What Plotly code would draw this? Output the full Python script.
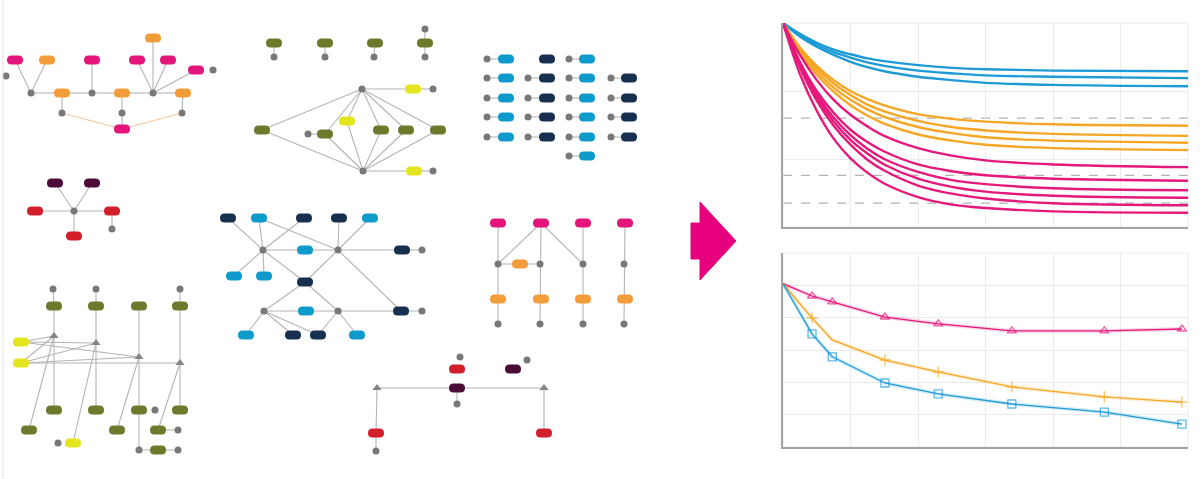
import plotly.graph_objects as go

# ---------------- data ----------------
# node-link sketches on the left (pixel coordinates of the canvas)
PILLS = [
    # top-left tree
    (15, 60, "pink"), (47, 60, "orange"), (92, 60, "pink"), (153, 38, "orange"),
    (137, 60, "pink"), (168, 60, "pink"), (196, 70, "pink"), (62, 93, "orange"),
    (122, 93, "orange"), (183, 93, "orange"), (122, 129, "pink"),
    # top-middle hubs
    (274, 43, "olive"), (325, 43, "olive"), (375, 43, "olive"), (425, 43, "olive"),
    (262, 130, "olive"), (325, 134, "olive"), (381, 130, "olive"), (406, 130, "olive"),
    (438, 130, "olive"), (413, 89, "yellow"), (347, 121, "yellow"), (414, 171, "yellow"),
    # grid
    (506, 59, "cyan"), (506, 78, "cyan"), (506, 98, "cyan"), (506, 117, "cyan"), (506, 137, "cyan"),
    (547, 59, "navy"), (547, 78, "navy"), (547, 98, "navy"), (547, 117, "navy"), (547, 137, "navy"),
    (587, 59, "cyan"), (587, 78, "cyan"), (587, 98, "cyan"), (587, 117, "cyan"), (587, 137, "cyan"),
    (587, 156, "cyan"),
    (629, 78, "navy"), (629, 98, "navy"), (629, 117, "navy"), (629, 137, "navy"),
    # star
    (55, 183, "purple"), (92, 183, "purple"), (35, 211, "red"), (112, 211, "red"), (74, 236, "red"),
    # bottom-left
    (54, 306, "olive"), (96, 306, "olive"), (139, 306, "olive"), (180, 306, "olive"),
    (54, 410, "olive"), (96, 410, "olive"), (139, 410, "olive"), (180, 410, "olive"),
    (29, 430, "olive"), (117, 430, "olive"), (158, 430, "olive"), (158, 450, "olive"),
    (21, 342, "yellow"), (21, 363, "yellow"), (73, 443, "yellow"),
    # middle network
    (228, 218, "navy"), (304, 218, "navy"), (339, 218, "navy"), (402, 250, "navy"),
    (305, 282, "navy"), (401, 311, "navy"), (293, 335, "navy"), (318, 335, "navy"),
    (259, 218, "cyan"), (370, 218, "cyan"), (305, 250, "cyan"), (234, 276, "cyan"),
    (264, 276, "cyan"), (306, 311, "cyan"), (246, 335, "cyan"), (357, 335, "cyan"),
    # right-middle ladder
    (498, 223, "pink"), (541, 223, "pink"), (583, 223, "pink"), (625, 223, "pink"),
    (520, 264, "orange"), (498, 299, "orange"), (541, 299, "orange"), (583, 299, "orange"),
    (625, 299, "orange"),
    # bottom-middle
    (457, 369, "red"), (376, 433, "red"), (544, 433, "red"), (513, 369, "purple"), (457, 388, "purple"),
]

DOTS = [
    (213, 70), (6, 76), (31, 93), (92, 93), (153, 93), (62, 113), (122, 113), (182, 113),
    (274, 57), (325, 57), (374, 57), (425, 57), (425, 29), (362, 89), (433, 89), (308, 134),
    (363, 171), (433, 171),
    (487, 59), (487, 78), (487, 98), (487, 117), (487, 137),
    (528, 78), (528, 98), (528, 117), (528, 137),
    (569, 59), (569, 78), (569, 98), (569, 117), (569, 137), (569, 156),
    (611, 78), (611, 98), (611, 117), (611, 137),
    (74, 211), (112, 229),
    (53, 289), (96, 289), (180, 289), (155, 410), (178, 430), (58, 443), (139, 450), (178, 450),
    (263, 250), (338, 250), (264, 311), (338, 311), (422, 250), (422, 311),
    (498, 264), (540, 264), (583, 264), (624, 264), (498, 324), (540, 324), (583, 324), (624, 324),
    (460, 357), (527, 360), (457, 404), (376, 451),
]

TRIANGLES = [(54, 336), (96, 343), (139, 357), (180, 363), (377, 388), (544, 388)]

EDGES = [
    ((15, 60), (31, 93)), ((47, 60), (31, 93)), ((31, 93), (62, 93)), ((62, 93), (92, 93)),
    ((92, 60), (92, 93)), ((92, 93), (122, 93)), ((122, 93), (153, 93)), ((153, 93), (153, 38)),
    ((153, 93), (137, 60)), ((153, 93), (168, 60)), ((153, 93), (196, 70)), ((153, 93), (183, 93)),
    ((62, 93), (62, 113)), ((122, 93), (122, 113)), ((183, 93), (182, 113)), ((122, 113), (122, 129)),
    ((274, 43), (274, 57)), ((325, 43), (325, 57)), ((375, 43), (374, 57)), ((425, 29), (425, 57)),
    ((362, 89), (413, 89)), ((362, 89), (262, 130)), ((362, 89), (325, 134)), ((362, 89), (347, 121)),
    ((362, 89), (381, 130)), ((362, 89), (406, 130)), ((362, 89), (438, 130)),
    ((363, 171), (414, 171)), ((363, 171), (262, 130)), ((363, 171), (325, 134)), ((363, 171), (347, 121)),
    ((363, 171), (381, 130)), ((363, 171), (406, 130)), ((363, 171), (438, 130)),
    ((413, 89), (433, 89)), ((414, 171), (433, 171)), ((308, 134), (325, 134)),
    ((487, 59), (506, 59)), ((487, 78), (506, 78)), ((487, 98), (506, 98)), ((487, 117), (506, 117)),
    ((487, 137), (506, 137)), ((528, 78), (547, 78)), ((528, 98), (547, 98)), ((528, 117), (547, 117)),
    ((528, 137), (547, 137)), ((569, 59), (587, 59)), ((569, 78), (587, 78)), ((569, 98), (587, 98)),
    ((569, 117), (587, 117)), ((569, 137), (587, 137)), ((569, 156), (587, 156)),
    ((611, 78), (629, 78)), ((611, 98), (629, 98)), ((611, 117), (629, 117)), ((611, 137), (629, 137)),
    ((55, 183), (74, 211)), ((92, 183), (74, 211)), ((35, 211), (74, 211)), ((74, 211), (112, 211)),
    ((74, 211), (74, 236)), ((112, 211), (112, 229)),
    ((53, 289), (54, 306)), ((96, 289), (96, 306)), ((180, 289), (180, 306)),
    ((54, 306), (54, 410)), ((96, 306), (96, 410)), ((139, 306), (139, 450)), ((180, 306), (180, 410)),
    ((21, 342), (54, 336)), ((21, 342), (96, 343)), ((21, 342), (139, 357)),
    ((21, 363), (54, 336)), ((21, 363), (96, 343)), ((21, 363), (139, 357)), ((21, 363), (180, 363)),
    ((29, 430), (54, 336)), ((73, 443), (96, 343)), ((117, 430), (139, 357)), ((158, 430), (180, 363)),
    ((158, 430), (178, 430)), ((139, 450), (178, 450)),
    ((228, 218), (263, 250)), ((259, 218), (263, 250)), ((304, 218), (263, 250)), ((259, 218), (338, 250)),
    ((339, 218), (338, 250)), ((370, 218), (338, 250)), ((263, 250), (338, 250)), ((338, 250), (422, 250)),
    ((263, 250), (234, 276)), ((263, 250), (264, 276)), ((263, 250), (305, 282)), ((338, 250), (305, 282)),
    ((338, 250), (401, 311)), ((305, 282), (264, 311)), ((305, 282), (338, 311)), ((264, 311), (422, 311)),
    ((264, 311), (246, 335)), ((264, 311), (293, 335)), ((264, 311), (318, 335)),
    ((338, 311), (318, 335)), ((338, 311), (357, 335)),
    ((498, 223), (498, 324)), ((541, 223), (540, 324)), ((583, 223), (583, 324)), ((625, 223), (624, 324)),
    ((541, 223), (498, 264)), ((541, 223), (583, 264)), ((498, 264), (540, 264)),
    ((377, 388), (544, 388)), ((377, 390), (376, 433)), ((544, 390), (544, 433)),
    ((457, 388), (457, 404)), ((376, 433), (376, 451)),
]
EDGES_TINTED = [((62, 113), (122, 129)), ((182, 113), (122, 129))]

ARROW_X = [700, 736, 700, 700, 691, 691, 700, 700]
ARROW_Y = [202, 241, 280, 259, 259, 223, 223, 202]

# top-right chart: decaying curves
CURVE_X = [0, 0.25, 0.5, 0.75, 1, 1.25, 1.5, 2, 2.5, 3, 4, 6]
BLUE_CURVES = [
    [3.0, 2.84, 2.71, 2.61, 2.54, 2.48, 2.44, 2.38, 2.34, 2.32, 2.30, 2.29],
    [3.0, 2.82, 2.68, 2.57, 2.49, 2.42, 2.37, 2.30, 2.26, 2.23, 2.21, 2.19],
    [3.0, 2.80, 2.65, 2.53, 2.43, 2.35, 2.29, 2.21, 2.16, 2.12, 2.09, 2.07],
]
ORANGE_CURVES = [
    [3.0, 2.64, 2.37, 2.16, 2.00, 1.88, 1.79, 1.66, 1.59, 1.55, 1.51, 1.49],
    [3.0, 2.63, 2.34, 2.11, 1.94, 1.80, 1.70, 1.56, 1.47, 1.42, 1.37, 1.34],
    [3.0, 2.60, 2.29, 2.05, 1.87, 1.73, 1.62, 1.47, 1.38, 1.32, 1.27, 1.24],
    [3.0, 2.57, 2.24, 1.99, 1.79, 1.64, 1.52, 1.36, 1.27, 1.21, 1.16, 1.13],
]
PINK_CURVES = [
    [3.0, 2.53, 2.16, 1.87, 1.65, 1.48, 1.34, 1.16, 1.05, 0.98, 0.92, 0.88],
    [3.0, 2.43, 2.00, 1.68, 1.43, 1.25, 1.11, 0.92, 0.82, 0.76, 0.71, 0.68],
    [3.0, 2.40, 1.95, 1.61, 1.35, 1.15, 1.00, 0.81, 0.69, 0.63, 0.57, 0.54],
    [3.0, 2.38, 1.91, 1.55, 1.28, 1.08, 0.92, 0.71, 0.59, 0.52, 0.46, 0.43],
    [3.0, 2.35, 1.86, 1.49, 1.21, 0.99, 0.83, 0.61, 0.49, 0.42, 0.35, 0.32],
    [3.0, 2.25, 1.71, 1.30, 1.01, 0.80, 0.64, 0.44, 0.33, 0.28, 0.23, 0.21],
]
DASH_LEVELS = [1.60, 0.76, 0.35]

# bottom-right chart: measured series
SERIES_X = [0, 0.43, 0.73, 1.51, 2.30, 3.39, 4.76, 5.91]
PINK_SERIES = [5.05, 4.67, 4.49, 4.02, 3.81, 3.59, 3.59, 3.65]
ORANGE_SERIES = [5.05, 3.99, 3.31, 2.69, 2.32, 1.86, 1.55, 1.39]
BLUE_SERIES = [5.05, 3.50, 2.79, 1.98, 1.64, 1.33, 1.08, 0.71]

# ---------------- styling ----------------
COLORS = {
    "pink": "#e3147a", "orange": "#f39c3a", "olive": "#6b7a2b", "yellow": "#e3e51e",
    "cyan": "#0e9bcb", "navy": "#18304f", "red": "#d21f2b", "purple": "#4b0c36",
}
LINE_BLUE = "#1e9ad6"
LINE_ORANGE = "#f6a623"
LINE_PINK = "#e5197b"


def pill_path(x, y, w=16, h=9):
    r = h / 2
    a, b = x - w / 2 + r, x + w / 2 - r
    return (f"M {a},{y - r} L {b},{y - r} Q {x + w / 2},{y - r} {x + w / 2},{y} "
            f"Q {x + w / 2},{y + r} {b},{y + r} L {a},{y + r} "
            f"Q {x - w / 2},{y + r} {x - w / 2},{y} Q {x - w / 2},{y - r} {a},{y - r} Z")


def seg_xy(edges):
    xs, ys = [], []
    for (x1, y1), (x2, y2) in edges:
        xs += [x1, x2, None]
        ys += [y1, y2, None]
    return xs, ys


fig = go.Figure()

# edges
ex, ey = seg_xy(EDGES)
fig.add_trace(go.Scatter(x=ex, y=ey, mode="lines", line=dict(color="#b4b4b4", width=1.1),
                         hoverinfo="skip", xaxis="x", yaxis="y"))
tx, ty = seg_xy(EDGES_TINTED)
fig.add_trace(go.Scatter(x=tx, y=ty, mode="lines", line=dict(color="#f4c7a0", width=1.1),
                         hoverinfo="skip", xaxis="x", yaxis="y"))

# dots and triangles
fig.add_trace(go.Scatter(x=[d[0] for d in DOTS], y=[d[1] for d in DOTS], mode="markers",
                         marker=dict(color="#787878", size=7), hoverinfo="skip", xaxis="x", yaxis="y"))
fig.add_trace(go.Scatter(x=[t[0] for t in TRIANGLES], y=[t[1] for t in TRIANGLES], mode="markers",
                         marker=dict(color="#858585", size=8, symbol="triangle-up"),
                         hoverinfo="skip", xaxis="x", yaxis="y"))

# arrow
fig.add_trace(go.Scatter(x=ARROW_X, y=ARROW_Y, mode="lines", fill="toself",
                         fillcolor="#e6007e", line=dict(color="#e6007e", width=1),
                         hoverinfo="skip", xaxis="x", yaxis="y"))

# pills
for px, py, kind in PILLS:
    fig.add_shape(type="path", path=pill_path(px, py), xref="x", yref="y",
                  fillcolor=COLORS[kind], line=dict(width=0), layer="above")

# left border
fig.add_shape(type="line", xref="x", yref="y", x0=3, x1=3, y0=0, y1=479,
              line=dict(color="#e2e2e2", width=1))

# top chart curves
for group, col in [(BLUE_CURVES, LINE_BLUE), (ORANGE_CURVES, LINE_ORANGE), (PINK_CURVES, LINE_PINK)]:
    for ys in group:
        fig.add_trace(go.Scatter(x=CURVE_X, y=ys, mode="lines",
                                 line=dict(color=col, width=2.4, shape="spline", smoothing=1.0),
                                 hoverinfo="skip", xaxis="x2", yaxis="y2"))

for lvl in DASH_LEVELS:
    fig.add_shape(type="line", xref="x2 domain", yref="y2", x0=0, x1=1, y0=lvl, y1=lvl,
                  line=dict(color="#b2b2b2", width=1.2, dash="dash"), layer="below")

# bottom chart series
for ys, col, sym in [(PINK_SERIES, LINE_PINK, "triangle-up-open"),
                     (ORANGE_SERIES, LINE_ORANGE, "cross-thin-open"),
                     (BLUE_SERIES, LINE_BLUE, "square-open")]:
    fig.add_trace(go.Scatter(x=SERIES_X, y=ys, mode="lines", line=dict(color=col, width=4),
                             opacity=0.18, hoverinfo="skip", xaxis="x3", yaxis="y3"))
    sizes = [0] + [8] * (len(ys) - 1)
    if col == LINE_ORANGE:
        sizes[2] = 0
    fig.add_trace(go.Scatter(x=SERIES_X, y=ys, mode="lines+markers", line=dict(color=col, width=1.3),
                             marker=dict(symbol=sym, size=sizes, color=col, line=dict(color=col, width=1.3)),
                             hoverinfo="skip", xaxis="x3", yaxis="y3"))

hidden = dict(visible=False, fixedrange=True)
chart_x = dict(range=[0, 6], dtick=1, showgrid=True, gridcolor="#ebebeb", gridwidth=1,
               showticklabels=False, ticks="", zeroline=False, showline=True,
               linecolor="#a3a3a3", linewidth=2, fixedrange=True)
chart_y = dict(chart_x)

fig.update_layout(
    width=1200, height=479, margin=dict(l=0, r=0, t=0, b=0),
    paper_bgcolor="white", plot_bgcolor="rgba(0,0,0,0)", showlegend=False,
    xaxis=dict(range=[0, 1200], domain=[0, 1], **hidden),
    yaxis=dict(range=[479, 0], domain=[0, 1], **hidden),
    xaxis2=dict(chart_x, domain=[783 / 1200, 1188 / 1200], anchor="y2"),
    yaxis2=dict(chart_y, range=[0, 3], domain=[1 - 227 / 479, 1 - 23 / 479], anchor="x2"),
    xaxis3=dict(chart_x, domain=[783 / 1200, 1188 / 1200], anchor="y3"),
    yaxis3=dict(chart_y, range=[0, 6], domain=[1 - 447 / 479, 1 - 253 / 479], anchor="x3"),
)

# faint outer frame of the charts
for xr, yr in [("x2 domain", "y2 domain"), ("x3 domain", "y3 domain")]:
    fig.add_shape(type="rect", xref=xr, yref=yr, x0=0, x1=1, y0=0, y1=1,
                  line=dict(color="#ebebeb", width=1), layer="below")

# drop the default page margin so the figure sits at the window origin
fig.write_html("out.html", config={"staticPlot": True},
               post_script="document.body.style.margin='0';document.body.style.overflow='hidden';")
